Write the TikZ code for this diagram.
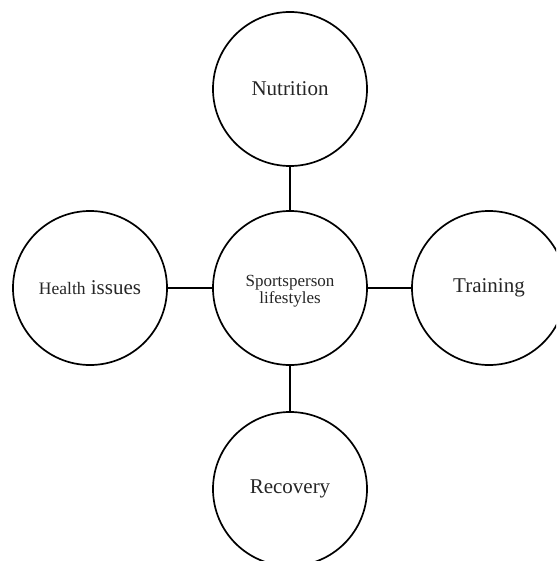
\documentclass[tikz,border=0pt]{standalone}
\usepackage{fontspec}
\setmainfont{Liberation Serif}
\begin{document}
\begin{tikzpicture}[x=1pt,y=-1pt,
  topic/.style={circle,draw=black,line width=1.7pt,minimum size=154pt,inner sep=0pt,
    font=\fontsize{21}{24}\selectfont,text=black!85},
  link/.style={draw=black,line width=1.7pt}]
\useasboundingbox (0,0) rectangle (556,561);
\clip (0,0) rectangle (556,561);
\fill[white] (0,0) rectangle (556,561);
\node[topic] (hub) at (290,288) {};
\node[align=center,font=\fontsize{17}{17}\selectfont,text=black!85] (hubtext) at (290,291)
  {Sportsperson\\lifestyles};
\node[topic] (nut) at (290,89) {Nutrition};
\node[topic] (health) at (90,288)
  {{\fontsize{17.5}{20}\selectfont Health} issues};
\node[topic] (train) at (489,288) {Training};
\node[topic] (rec) at (290,489) {Recovery};
\draw[link] (hub) -- (nut);
\draw[link] (hub) -- (health);
\draw[link] (hub) -- (train);
\draw[link] (hub) -- (rec);
\end{tikzpicture}
\end{document}
